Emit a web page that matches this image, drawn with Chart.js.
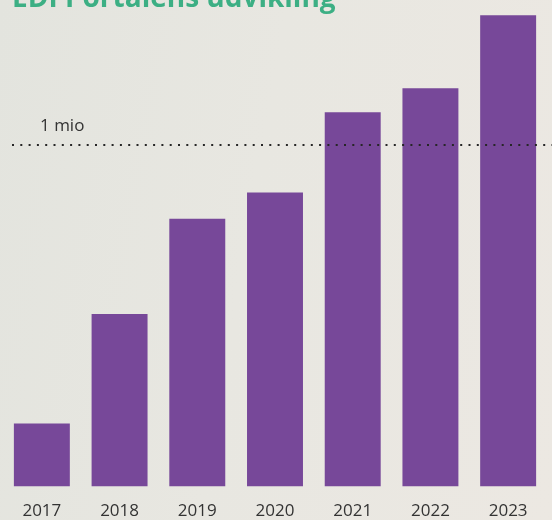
<!DOCTYPE html>
<html>
<head>
<meta charset="utf-8">
<script src="https://cdn.jsdelivr.net/npm/chart.js@4"></script>
<style>
  html, body { margin: 0; padding: 0; overflow: hidden; }
  body {
    width: 552px; height: 520px; position: relative;
    background: linear-gradient(100deg, #e3e4de 0%, #e8e7e1 45%, #ece8e2 100%);
    font-family: "Open Sans", sans-serif;
  }
  .title {
    position: absolute; left: 12px; top: -18px; margin: 0;
    font: bold 28px/28px "Open Sans", sans-serif; color: #3caf84;
    white-space: nowrap;
  }
  .wrap { position: absolute; left: 0; top: 0; width: 552px; height: 537px; }
</style>
</head>
<body>
<div class="wrap"><canvas id="chart"></canvas></div>
<h1 class="title">EDI Portalens udvikling</h1>
<script>
// users in thousands
const years = ["2017", "2018", "2019", "2020", "2021", "2022", "2023"];
const users = [185, 506, 785, 862, 1097, 1168, 1382];
const refValue = 1000;
const refLabel = "1 mio";

const refLine = {
  id: "refLine",
  afterDatasetsDraw(chart) {
    const { ctx } = chart;
    const y = Math.round(chart.scales.y.getPixelForValue(refValue));
    ctx.save();
    ctx.strokeStyle = "#262626";
    ctx.lineWidth = 2;
    ctx.setLineDash([2, 6.3]);
    ctx.beginPath();
    ctx.moveTo(12, y);
    ctx.lineTo(chart.width, y);
    ctx.stroke();
    ctx.setLineDash([]);
    ctx.fillStyle = "#333333";
    ctx.font = "17px 'Open Sans'";
    ctx.textBaseline = "alphabetic";
    ctx.fillText(refLabel, 40, y - 14.5);
    ctx.restore();
  }
};

new Chart(document.getElementById("chart"), {
  type: "bar",
  data: {
    labels: years,
    datasets: [{
      data: users,
      backgroundColor: "#774899",
      borderWidth: 0,
      barPercentage: 0.72,
      categoryPercentage: 1
    }]
  },
  options: {
    responsive: true,
    maintainAspectRatio: false,
    animation: false,
    layout: { padding: { top: 9, left: 3, right: 5, bottom: 2 } },
    plugins: {
      legend: { display: false },
      tooltip: { enabled: false }
    },
    scales: {
      x: {
        grid: { display: false, drawTicks: false },
        border: { display: false },
        ticks: {
          color: "#333333",
          padding: 14,
          font: { family: "Open Sans", size: 17 }
        }
      },
      y: {
        display: false,
        min: 0,
        max: 1400
      }
    }
  },
  plugins: [refLine]
});
</script>
</body>
</html>
